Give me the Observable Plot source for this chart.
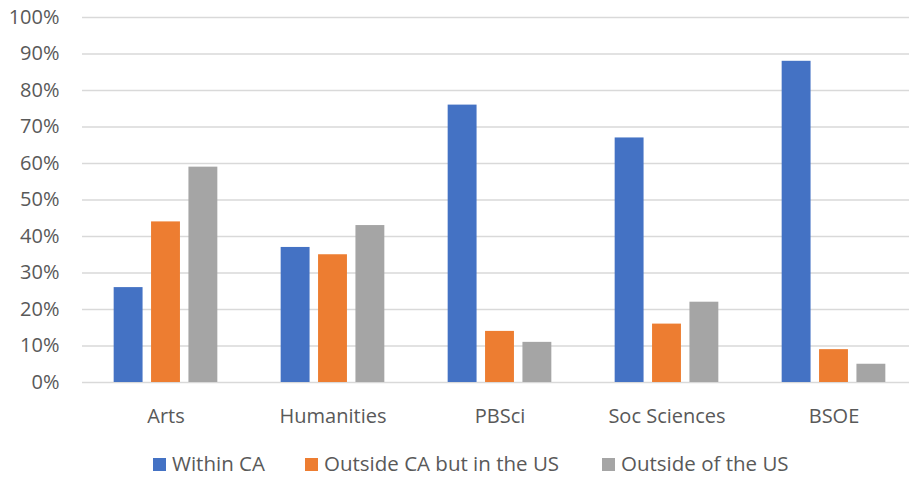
<!DOCTYPE html>
<html><head><meta charset="utf-8">
<script src="https://cdn.jsdelivr.net/npm/d3@7"></script>
<script src="https://cdn.jsdelivr.net/npm/@observablehq/plot@0.6"></script>
<style>
body{margin:0;background:#fff;font-family:"Open Sans",sans-serif;}
#legend{position:relative;height:38px;width:909px;color:#595959;font-size:20.5px;}
#legend .item{position:absolute;top:13px;display:flex;align-items:center;height:20px;line-height:20px;white-space:nowrap;}
#legend .sw{width:13px;height:13px;margin-right:6px;margin-top:2px;}
</style></head><body>
<div id="chart"></div><div id="legend"></div>
<script>
const categories = ["Arts","Humanities","PBSci","Soc Sciences","BSOE"];
const seriesNames = ["Within CA","Outside CA but in the US","Outside of the US"];
const withinCA = [26,37,76,67,88];
const outsideCA = [44,35,14,16,9];
const outsideUS = [59,43,11,22,5];
const colors = ["#4472C4","#ED7D31","#A5A5A5"];
const yTicks = [0,0.1,0.2,0.3,0.4,0.5,0.6,0.7,0.8,0.9,1];

const seriesArrays = [withinCA, outsideCA, outsideUS];
const data = categories.flatMap((c,i)=>seriesArrays.map((arr,j)=>({category:c, series:seriesNames[j], value:arr[i]/100})));

const plot = Plot.plot({
  width:909, height:440,
  marginLeft:81, marginRight:-9, marginTop:17, marginBottom:58,
  style:{fontFamily:"'Open Sans', sans-serif", fontSize:"20px", color:"#595959", background:"#fff", overflow:"hidden"},
  fx:{domain:categories, padding:0, label:null, tickSize:0, tickPadding:26},
  x:{domain:seriesNames, paddingInner:0.227, paddingOuter:0.847, axis:null, round:false},
  y:{domain:[0,1], ticks:yTicks, tickFormat:d3.format(".0%"), tickSize:0, tickPadding:23, label:null},
  color:{domain:seriesNames, range:colors},
  marks:[
    Plot.ruleY(yTicks, {stroke:"#d9d9d9", strokeWidth:1.5}),
    Plot.barY(data, {fx:"category", x:"series", y:"value", fill:"series"})
  ]
});
document.getElementById("chart").appendChild(plot);

const lefts = [153, 305, 602];
const legend = document.getElementById("legend");
seriesNames.forEach((s,i)=>{
  const it = document.createElement("div");
  it.className = "item";
  it.style.left = lefts[i] + "px";
  it.innerHTML = `<span class="sw" style="background:${colors[i]}"></span><span>${s}</span>`;
  legend.appendChild(it);
});
</script>
</body></html>
